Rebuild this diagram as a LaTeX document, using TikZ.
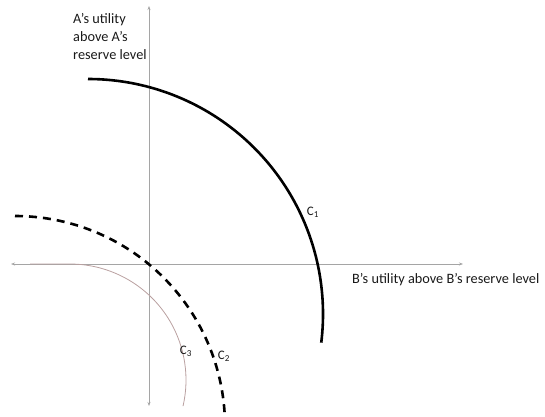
\documentclass[tikz,border=0pt]{standalone}
\usepackage{fontspec}
\setmainfont{Carlito}
\usetikzlibrary{arrows.meta}
\definecolor{axisgray}{RGB}{165,165,165}
\definecolor{cthree}{RGB}{185,160,160}
\begin{document}
\begin{tikzpicture}[x=1pt,y=-1pt,
  axisline/.style={draw=axisgray,line width=0.9pt,{Stealth[length=4pt,width=3pt]}-{Stealth[length=4pt,width=3pt]}},
  curvesolid/.style={line width=2.6pt,black},
  curvedash/.style={line width=2.6pt,black,dash pattern=on 8pt off 6pt},
  curvethin/.style={line width=0.8pt,cthree},
  lbl/.style={font=\fontsize{14.3}{18}\selectfont,text=black!90,inner sep=0pt},
  clbl/.style={font=\fontsize{13}{15}\selectfont,text=black!90,inner sep=0pt}]
\useasboundingbox (0,0) rectangle (545,416);
% axes
\coordinate (ytop) at (149,6);
\coordinate (ybot) at (149,406);
\coordinate (xleft) at (11,264);
\coordinate (xright) at (463,264);
\draw[axisline] (ybot) -- (ytop);
\draw[axisline] (xleft) -- (xright);
% curves (y axis points down, so angles are mirrored)
\coordinate (c1s) at (88,79);
\draw[curvesolid] (c1s) arc[start angle=-90,end angle=7,radius=235];
\coordinate (c2s) at (15,216);
\draw[curvedash] (c2s) arc[start angle=-90,end angle=3,radius=210];
\coordinate (c3s) at (30,264);
\draw[curvethin] (c3s) -- (70,264) arc[start angle=-90,end angle=13,radius=116];
% labels
\node[lbl,anchor=north west,align=left] (alabel) at (73,13) {A’s utility\\above A’s\\reserve level};
\node[lbl,anchor=west] (blabel) at (352,280) {B’s utility above B’s reserve level};
\node[clbl] (l1) at (313,212) {C\textsubscript{1}};
\node[clbl] (l2) at (224,356) {C\textsubscript{2}};
\node[clbl] (l3) at (186,351) {C\textsubscript{3}};
\end{tikzpicture}
\end{document}
